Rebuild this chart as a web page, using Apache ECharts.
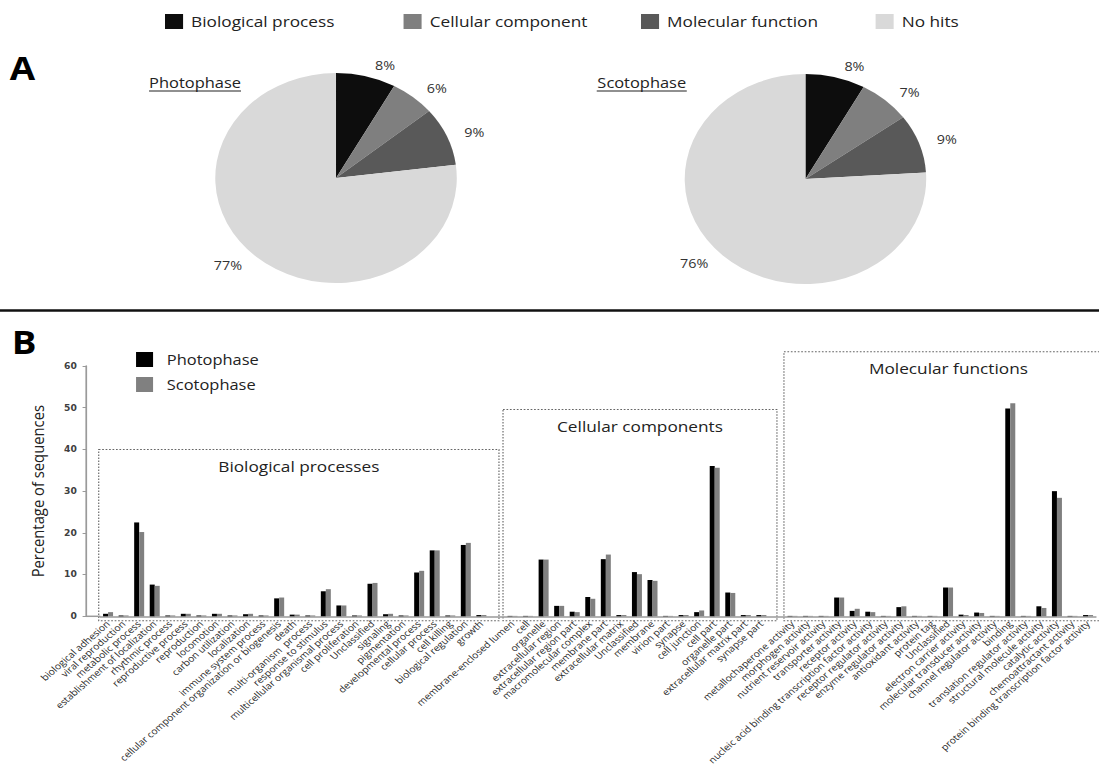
<!DOCTYPE html>
<html>
<head>
<meta charset="utf-8">
<script src="https://cdn.jsdelivr.net/npm/echarts@6/dist/echarts.min.js"></script>
<style>
  html, body { margin: 0; padding: 0; background: #fff; overflow: hidden; }
  #wrap { width: 1099px; height: 767px; overflow: hidden; }
  /* the figure is laid out at 956px and widened to the full 1099px */
  #chart { width: 956px; height: 767px; transform: scaleX(1.15); transform-origin: 0 0; }
</style>
</head>
<body>
<div id="wrap"><div id="chart"></div></div>
<script>
// ---- Panel A: share of sequences by GO annotation ----
const pieNames = ['Biological process', 'Cellular component', 'Molecular function', 'No hits'];
const pieColors = ['#0d0d0d', '#7f7f7f', '#595959', '#d9d9d9'];
const photoShare = [8, 6, 9, 77];
const scotoShare = [8, 7, 9, 76];

// ---- Panel B: percentage of sequences per GO term ----
const bioTerms = ['biological adhesion', 'viral reproduction', 'metabolic process', 'establishment of localization',
  'rhythmic process', 'reproductive process', 'reproduction', 'locomotion', 'carbon utilization', 'localization',
  'immune system process', 'cellular component organization or biogenesis', 'death', 'multi-organism  process',
  'response to stimulus', 'multicellular organismal process', 'cell proliferation', 'Unclassified', 'signaling',
  'pigmentation', 'developmental process', 'cellular process', 'cell killing', 'biological regulation', 'growth'];
const bioPhoto = [0.6, 0.2, 22.5, 7.6, 0.2, 0.6, 0.2, 0.6, 0.2, 0.5, 0.2, 4.3, 0.4, 0.2, 6.0, 2.6, 0.2, 7.8, 0.5, 0.2, 10.5, 15.8, 0.2, 17.1, 0.3];
const bioScoto = [1.0, 0.2, 20.2, 7.3, 0.2, 0.6, 0.2, 0.6, 0.2, 0.6, 0.2, 4.5, 0.4, 0.2, 6.5, 2.6, 0.2, 8.0, 0.6, 0.2, 10.9, 15.8, 0.2, 17.6, 0.3];

const cellTerms = ['membrane-enclosed lumen', 'cell', 'organelle', 'extracellular region', 'extracellular region part',
  'macromolecular complex', 'membrane part', 'extracellular matrix', 'Unclassified', 'membrane', 'virion part',
  'synapse', 'cell junction', 'cell part', 'organelle part', 'extracellular matrix part', 'synapse part'];
const cellPhoto = [0.1, 0.1, 13.6, 2.5, 1.1, 4.6, 13.7, 0.3, 10.6, 8.7, 0.1, 0.3, 1.0, 36.0, 5.7, 0.3, 0.3];
const cellScoto = [0.1, 0.1, 13.6, 2.5, 1.0, 4.2, 14.8, 0.3, 10.1, 8.5, 0.1, 0.3, 1.4, 35.6, 5.6, 0.3, 0.3];

const molTerms = ['metallochaperone activity', 'morphogen activity', 'nutrient reservoir activity', 'transporter activity',
  'receptor activity', 'nucleic acid binding transcription factor activity', 'receptor regulator activity',
  'enzyme regulator activity', 'antioxidant activity', 'protein tag', 'Unclassified', 'electron carrier activity',
  'molecular transducer activity', 'channel regulator activity', 'binding', 'translation regulator activity',
  'structural molecule activity', 'catalytic activity', 'chemoattractant activity',
  'protein binding transcription factor activity'];
const molPhoto = [0.1, 0.1, 0.1, 4.5, 1.3, 1.1, 0.1, 2.2, 0.1, 0.1, 6.9, 0.4, 0.9, 0.1, 49.8, 0.1, 2.4, 30.0, 0.1, 0.3];
const molScoto = [0.1, 0.1, 0.1, 4.5, 1.8, 1.0, 0.1, 2.4, 0.1, 0.1, 6.9, 0.3, 0.8, 0.1, 51.1, 0.1, 2.0, 28.4, 0.1, 0.3];

const yTicks = [0, 10, 20, 30, 40, 50, 60];
const groupTitles = ['Biological processes', 'Cellular components', 'Molecular functions'];
const groupTops = [40, 49.6, 63.4];   // upper edge of each dotted group frame, in y units

// one empty slot separates the three GO groups on the category axis
const categories = [...bioTerms, '', ...cellTerms, '', ...molTerms];
const photoValues = [...bioPhoto, null, ...cellPhoto, null, ...molPhoto];
const scotoValues = [...bioScoto, null, ...cellScoto, null, ...molScoto];

const FONT = "'Open Sans', 'Noto Sans', sans-serif";
const chart = echarts.init(document.getElementById('chart'), null, { renderer: 'svg' });

function pieSeries(name, shares, cx, cy) {
  return {
    type: 'pie',
    name: name,
    center: [cx, cy],
    radius: 105,
    startAngle: 90,
    clockwise: true,
    avoidLabelOverlap: false,
    silent: true,
    label: {
      show: true, position: 'outside', formatter: '{c}%',
      fontFamily: FONT, fontSize: 12.5, color: '#333'
    },
    labelLine: { show: false, length: 11, length2: 0 },
    itemStyle: { borderWidth: 0 },
    data: shares.map((v, i) => ({ name: pieNames[i], value: v, itemStyle: { color: pieColors[i] } }))
  };
}

// top legend: one entry per annotation class
const topLegendLeft = [143.5, 350.9, 557.4, 761.4];
const topLegends = pieNames.map((n, i) => ({
  data: [n],
  left: topLegendLeft[i], top: 14, padding: 0,
  itemWidth: 15.7, itemHeight: 15,
  icon: 'rect',
  textStyle: { fontFamily: FONT, fontSize: 15, color: '#222', padding: [0, 0, 0, 2] },
  selectedMode: false
}));

const option = {
  animation: false,
  backgroundColor: '#fff',
  textStyle: { fontFamily: FONT },
  legend: [
    ...topLegends,
    {
      data: ['Photophase', 'Scotophase'],
      left: 118.3, top: 352, padding: 0, orient: 'vertical',
      itemWidth: 14.8, itemHeight: 15, itemGap: 10,
      icon: 'rect',
      textStyle: { fontFamily: FONT, fontSize: 14.3, color: '#222', padding: [0, 0, 0, 7] },
      selectedMode: false
    }
  ],
  grid: { left: 87.2, right: 3.1, top: 366, bottom: 150.7, containLabel: false, outerBoundsMode: 'none' },
  xAxis: {
    type: 'category',
    data: categories,
    boundaryGap: true,
    axisLine: { lineStyle: { color: '#9a9a9a', width: 1.5 } },
    axisTick: { show: false },
    axisLabel: {
      interval: 0, rotate: 45, margin: 6,
      fontFamily: FONT, fontSize: 9, color: '#2a2a2a'
    },
    splitLine: { show: false }
  },
  yAxis: {
    type: 'value',
    min: 0, max: 60, interval: 10,
    offset: 12.4,
    name: 'Percentage of sequences',
    nameLocation: 'middle',
    nameGap: 35,
    nameTextStyle: { fontFamily: FONT, fontSize: 14.8, color: '#222' },
    axisLine: { show: true, lineStyle: { color: '#9a9a9a', width: 1.5 } },
    axisTick: { show: true, length: 3, lineStyle: { color: '#9a9a9a' } },
    axisLabel: {
      margin: 8, fontFamily: 'DejaVu Sans', fontSize: 8, fontWeight: 'bold', color: '#404040',
      formatter: v => (yTicks.includes(v) ? String(v) : '')
    },
    splitLine: { show: false }
  },
  series: [
    {
      type: 'bar', name: 'Photophase', data: photoValues,
      barWidth: 4.35, barGap: '0%',
      itemStyle: { color: '#000' }, silent: true
    },
    {
      type: 'bar', name: 'Scotophase', data: scotoValues,
      barWidth: 4.35, barGap: '0%',
      itemStyle: { color: '#808080' }, silent: true
    },
    pieSeries('photophase share', photoShare, 292.2, 178),
    pieSeries('scotophase share', scotoShare, 700.4, 179)
  ]
};
chart.setOption(option);

// ---- decorations positioned through the bar chart's own scales ----
const toPx = (i, v) => chart.convertToPixel({ xAxisIndex: 0, yAxisIndex: 0 }, [i, v]);
const x0 = toPx(0, 0)[0];
const band = toPx(1, 0)[0] - x0;
const xAt = f => x0 + f * band;           // fractional category position
const yZero = toPx(0, 0)[1];
const yAt = v => toPx(0, v)[1];
const frameBottom = yZero + 4.4;

// group frames as [start, end] in category units
const frames = [[-0.6, 25.13], [25.39, 43.0], [43.45, 64.6]];
const titleOffset = 17;

const centered = { align: 'center', verticalAlign: 'middle', textAlign: 'center', textVerticalAlign: 'middle' };
const graphics = [];
frames.forEach((fr, k) => {
  const xl = xAt(fr[0]), xr = xAt(fr[1]), yt = yAt(groupTops[k]);
  graphics.push({
    type: 'rect', silent: true,
    shape: { x: xl, y: yt, width: xr - xl, height: frameBottom - yt },
    style: { fill: 'none', stroke: '#666', lineWidth: 1, lineDash: [1.5, 1.5] }
  });
  graphics.push({
    type: 'text', silent: true,
    x: (xl + xr) / 2, y: yt + titleOffset,
    style: Object.assign({ text: groupTitles[k], fill: '#222', font: '15px ' + FONT }, centered)
  });
});

// extend the category baseline back to the offset value axis
graphics.push({
  type: 'line', silent: true,
  shape: { x1: x0 - band / 2 - 12.4, y1: yZero, x2: x0 - band / 2, y2: yZero },
  style: { stroke: '#9a9a9a', lineWidth: 1.5 }
});

// panel letters, divider, pie captions
graphics.push(
  { type: 'text', silent: true, x: 19.5, y: 67,
    style: Object.assign({ text: 'A', fill: '#000', font: 'bold 32px ' + FONT }, centered) },
  { type: 'text', silent: true, x: 21, y: 341,
    style: Object.assign({ text: 'B', fill: '#000', font: 'bold 32px ' + FONT }, centered) },
  { type: 'line', silent: true, shape: { x1: 0, y1: 310.5, x2: 956, y2: 310.5 },
    style: { stroke: '#111', lineWidth: 2.5 } }
);
[['Photophase', 129.6, 209.6], ['Scotophase', 518.9, 597.2]].forEach(([t, xl, xr]) => {
  graphics.push(
    { type: 'text', silent: true, x: (xl + xr) / 2, y: 83,
      style: Object.assign({ text: t, fill: '#222', font: '14.3px ' + FONT }, centered) },
    { type: 'line', silent: true, shape: { x1: xl, y1: 91, x2: xr, y2: 91 },
      style: { stroke: '#222', lineWidth: 1 } }
  );
});

chart.setOption({ graphic: graphics });
</script>
</body>
</html>
